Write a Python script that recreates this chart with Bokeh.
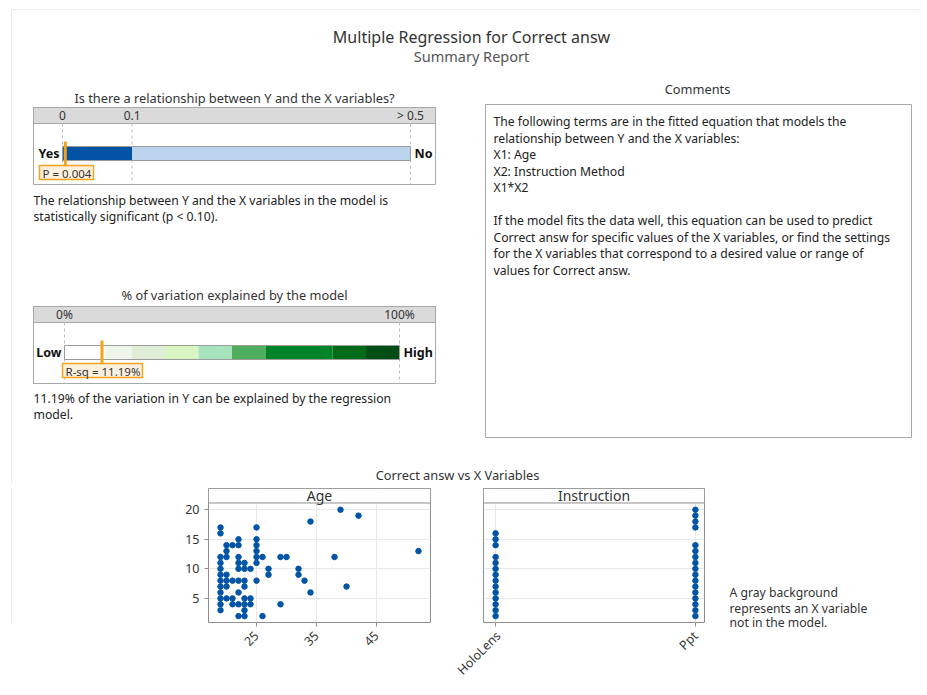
from math import pi
from bokeh.plotting import figure
from bokeh.models import Range1d, FixedTicker, Spacer, LinearAxis
from bokeh.layouts import column, row
from bokeh.core.properties import value
from bokeh.embed import file_html
from bokeh.resources import INLINE

FONT = "Noto Sans"

# ---------------- data ----------------
p_value = 0.004
p_ticks = [0, 0.1, 0.5]
p_tick_labels = ["0", "0.1", "> 0.5"]
p_band_edges = [0, 0.1, 0.5]
p_band_colors = ["#0053a5", "#bcd3ee"]

rsq_value = 11.19
rsq_ticks = [0, 100]
rsq_tick_labels = ["0%", "100%"]
rsq_band_edges = [0, 12, 20, 30, 40, 50, 60, 80, 90, 100]
rsq_band_colors = ["#ffffff", "#eef6ec", "#e0eed8", "#d8f5c2", "#a7e3bd",
                   "#4fae5d", "#00842a", "#006c1a", "#004e15"]

age_x = ([19] * 12 + [20] * 7 + [21] * 4 + [22] * 9 + [23] * 8 + [24] * 3 + [25] * 7
         + [26] * 2 + [27] * 2 + [29] * 2 + [30] + [32] * 2 + [33] + [34] * 2
         + [38] + [39] + [40] + [42] + [52])
age_y = ([17, 16, 12, 11, 10, 9, 8, 7, 6, 5, 4, 3]
         + [14, 13, 12, 9, 8, 7, 5]
         + [14, 8, 5, 4]
         + [15, 14, 12, 11, 10, 8, 6, 4, 2]
         + [11, 10, 8, 7, 5, 4, 3, 2]
         + [10, 5, 4]
         + [17, 15, 14, 13, 12, 11, 8]
         + [12, 2] + [10, 9] + [12, 4] + [12] + [10, 9] + [8] + [18, 6]
         + [12] + [20] + [7] + [19] + [13])
age_ticks = [25, 35, 45]

instr_levels = ["HoloLens", "Ppt"]
holo_y = [16, 15, 14, 12, 11, 10, 9, 8, 7, 6, 5, 4, 3, 2]
ppt_y = [20, 19, 18, 17, 14, 13, 12, 11, 10, 9, 8, 7, 6, 5, 4, 3, 2]
y_ticks = [5, 10, 15, 20]

comment_lines = [
    "The following terms are in the fitted equation that models the",
    "relationship between Y and the X variables:",
    "X1: Age",
    "X2: Instruction Method",
    "X1*X2",
    "",
    "If the model fits the data well, this equation can be used to predict",
    "Correct answ for specific values of the X variables, or find the settings",
    "for the X variables that correspond to a desired value or range of",
    "values for Correct answ.",
]
note_lines = ["A gray background", "represents an X variable", "not in the model."]

DOT = "#0054a6"
ORANGE = "#f5a21c"
BOXLINE = "#a8a8a8"
TXT = "#222222"


def txt(fig, x, y, s, size=12, color=TXT, align="left", style="normal",
        baseline="middle", rng="default"):
    fig.text(x=[x], y=[y], text=[s], text_font=value(FONT),
             text_font_size=f"{size}px", text_color=color, text_align=align,
             text_baseline=baseline, text_font_style=style, x_range_name=rng)


# ---------------- top figure (page coordinates) ----------------
X0, X1, Y0, Y1 = 0, 919, 0, 484
top = figure(width=X1 - X0, height=Y1 - Y0, x_range=Range1d(X0, X1),
             y_range=Range1d(Y1, Y0), output_backend="svg", toolbar_location=None,
             min_border=0, x_axis_location=None, y_axis_location=None)
top.grid.visible = False
top.outline_line_color = None
top.background_fill_color = "white"

# gauge scales
P0, P1 = 62, 410
ps = (p_ticks[-1] - p_ticks[0]) / (P1 - P0)
R0, R1 = 64, 399
rs = (rsq_ticks[-1] - rsq_ticks[0]) / (R1 - R0)
top.extra_x_ranges = {
    "p": Range1d(p_ticks[0] - (P0 - X0) * ps, p_ticks[-1] + (X1 - P1) * ps),
    "r": Range1d(rsq_ticks[0] - (R0 - X0) * rs, rsq_ticks[-1] + (X1 - R1) * rs),
}

# faint page border
top.line(x=[11, 11, X1], y=[Y1, 9, 9], line_color="#ececec", line_width=1)

txt(top, 471, 36, "Multiple Regression for Correct answ", size=16, color="#333333",
    align="center")
txt(top, 471, 55, "Summary Report", size=14.5, color="#555555", align="center")


def gauge(ytitle, title, box_top, box_bot, ticks, tick_labels, rng, edges, colors,
          bar_top, bar_bot, left_word, right_word, val, mark_top, mark_bot,
          lab_box, lab_text, lines, line_y):
    txt(top, 234, ytitle, title, size=12.8, color="#333333", align="center")
    top.quad(left=33, right=435, top=box_top, bottom=box_bot, fill_color="white",
             line_color=BOXLINE)
    top.quad(left=33, right=435, top=box_top, bottom=box_top + 16,
             fill_color="#dadada", line_color=BOXLINE)
    top.segment(x0=ticks, x1=ticks, y0=[box_top + 16] * len(ticks),
                y1=[box_bot] * len(ticks), line_color="#bdbdbd", line_dash="3 3",
                x_range_name=rng)
    top.text(x=ticks, y=[box_top + 8] * len(ticks), text=tick_labels,
             text_font=value(FONT), text_font_size="12px", text_color="#333333",
             text_align="center", text_baseline="middle", x_range_name=rng)
    top.quad(left=edges[:-1], right=edges[1:], top=[bar_top] * len(colors),
             bottom=[bar_bot] * len(colors), fill_color=colors, line_color=None,
             x_range_name=rng)
    top.quad(left=[edges[0]], right=[edges[-1]], top=[bar_top], bottom=[bar_bot],
             fill_color=None, line_color="#9c9c9c", x_range_name=rng)
    top.text(x=[edges[0]], y=[(bar_top + bar_bot) / 2], text=[left_word],
             text_font=value(FONT), text_font_size="12.5px", text_font_style="bold",
             text_color="#111111", text_align="right", text_baseline="middle",
             x_offset=-3, x_range_name=rng)
    top.text(x=[edges[-1]], y=[(bar_top + bar_bot) / 2], text=[right_word],
             text_font=value(FONT), text_font_size="12.5px", text_font_style="bold",
             text_color="#111111", text_align="left", text_baseline="middle",
             x_offset=4, x_range_name=rng)
    top.segment(x0=[val], x1=[val], y0=[mark_top], y1=[mark_bot],
                line_color=ORANGE, line_width=3, x_range_name=rng)
    l, r, t, b = lab_box
    top.quad(left=l, right=r, top=t, bottom=b, fill_color="#fdf1de",
             line_color=ORANGE, line_width=1.5)
    txt(top, l + 3, (t + b) / 2 + 0.5, lab_text, size=11.5, color="#333333")
    for k, s in enumerate(lines):
        txt(top, 33, line_y + 16 * k, s, size=12.2, color=TXT)


gauge(97, "Is there a relationship between Y and the X variables?", 107, 184,
      p_ticks, p_tick_labels, "p", p_band_edges, p_band_colors, 146, 160,
      "Yes", "No", p_value, 141, 168, (39, 93, 165, 179), f"P = {p_value:.3f}",
      ["The relationship between Y and the X variables in the model is",
       "statistically significant (p < 0.10)."], 200)

gauge(294, "% of variation explained by the model", 306, 383,
      rsq_ticks, rsq_tick_labels, "r", rsq_band_edges, rsq_band_colors, 345, 359,
      "Low", "High", rsq_value, 340, 365, (62, 142, 363, 377),
      f"R-sq = {rsq_value:.2f}%",
      [f"{rsq_value:.2f}% of the variation in Y can be explained by the regression",
       "model."], 398)

# comments
txt(top, 697, 88, "Comments", size=12.8, color="#333333", align="center")
top.quad(left=485, right=911, top=104, bottom=437, fill_color="white",
         line_color=BOXLINE)
for k, s in enumerate(comment_lines):
    if s:
        txt(top, 493, 121 + 16.5 * k, s, size=12.2, color=TXT)

txt(top, 457, 474, "Correct answ vs X Variables", size=12.8, color="#333333",
    align="center")

# ---------------- bottom row ----------------
BH = 203
YR = (0.92, 23.59)
HDR = 21.14


def style_axis(ax):
    ax.axis_line_color = None
    ax.major_tick_in = 0
    ax.major_tick_out = 4
    ax.major_tick_line_color = "#8f8f8f"
    ax.minor_tick_line_color = None
    ax.major_label_text_font = FONT
    ax.major_label_text_font_size = "12.5px"
    ax.major_label_text_color = "#333333"


def style_panel(f, header, standoff):
    f.outline_line_color = "#8f8f8f"
    f.grid.grid_line_color = "#e8e8e8"
    for ax in f.axis:
        style_axis(ax)
    f.xaxis.major_label_standoff = standoff
    xs, xe = f.x_range.start, f.x_range.end
    f.quad(left=[xs], right=[xe], bottom=[HDR], top=[YR[1]], fill_color="white",
           line_color="#8f8f8f")
    f.text(x=[(xs + xe) / 2], y=[(HDR + YR[1]) / 2], text=[header],
           text_font=value(FONT), text_font_size="14px", text_color="#333333",
           text_align="center", text_baseline="middle")


left_pad = figure(width=168, height=BH, x_range=Range1d(0, 168),
                  y_range=Range1d(687, 484), output_backend="svg",
                  toolbar_location=None, min_border=0, x_axis_location=None,
                  y_axis_location=None)
left_pad.grid.visible = False
left_pad.outline_line_color = None
left_pad.line(x=[11, 11], y=[484, 687], line_color="#ececec")

age = figure(width=264, height=BH, x_range=Range1d(17, 54), y_range=Range1d(*YR),
             output_backend="svg", toolbar_location=None, min_border_left=40,
             min_border_right=2, min_border_top=4, min_border_bottom=60)
age.xaxis.ticker = FixedTicker(ticks=age_ticks)
age.yaxis.ticker = FixedTicker(ticks=y_ticks)
age.xgrid.ticker = FixedTicker(ticks=age_ticks)
age.ygrid.ticker = FixedTicker(ticks=y_ticks)
age.xaxis.major_label_orientation = pi / 4
style_panel(age, "Age", 7)
age.scatter(x=age_x, y=age_y, size=5.5, fill_color=DOT, line_color=DOT)

instr_idx = list(range(len(instr_levels)))
ins_x = [instr_idx[0]] * len(holo_y) + [instr_idx[1]] * len(ppt_y)
ins_y = holo_y + ppt_y
ins = figure(width=30 + 221 + 215, height=BH, x_range=Range1d(-0.0606, 1.0455),
             y_range=Range1d(*YR), output_backend="svg", toolbar_location=None,
             min_border_left=30, min_border_right=215, min_border_top=4,
             min_border_bottom=60)
ins.xaxis.ticker = FixedTicker(ticks=instr_idx)
ins.xaxis.major_label_overrides = {i: s for i, s in zip(instr_idx, instr_levels)}
ins.xaxis.major_label_orientation = pi / 4
ins.xgrid.ticker = FixedTicker(ticks=instr_idx)
ins.ygrid.ticker = FixedTicker(ticks=y_ticks)
ins.yaxis.visible = False
style_panel(ins, "Instruction", 7)
ins.scatter(x=ins_x, y=ins_y, size=5.5, fill_color=DOT, line_color=DOT)

# side note, set as labels of an unlined axis on the right (page-y coordinates)
NOTE_Y = [596, 612, 626.9]
ins.extra_y_ranges = {"py": Range1d(627, 488)}
note_axis = LinearAxis(y_range_name="py", ticker=FixedTicker(ticks=NOTE_Y),
                       major_label_overrides=dict(zip(NOTE_Y, note_lines)))
note_axis.axis_line_color = None
note_axis.major_tick_line_color = None
note_axis.minor_tick_line_color = None
note_axis.major_tick_in = 0
note_axis.major_tick_out = 0
note_axis.major_label_standoff = 25
note_axis.major_label_text_font = FONT
note_axis.major_label_text_font_size = "12.2px"
note_axis.major_label_text_color = "#333333"
ins.add_layout(note_axis, "right")

layout = column(top, row(left_pad, age, Spacer(width=21, height=BH), ins))

open("out.html", "w").write(file_html(layout, INLINE))
